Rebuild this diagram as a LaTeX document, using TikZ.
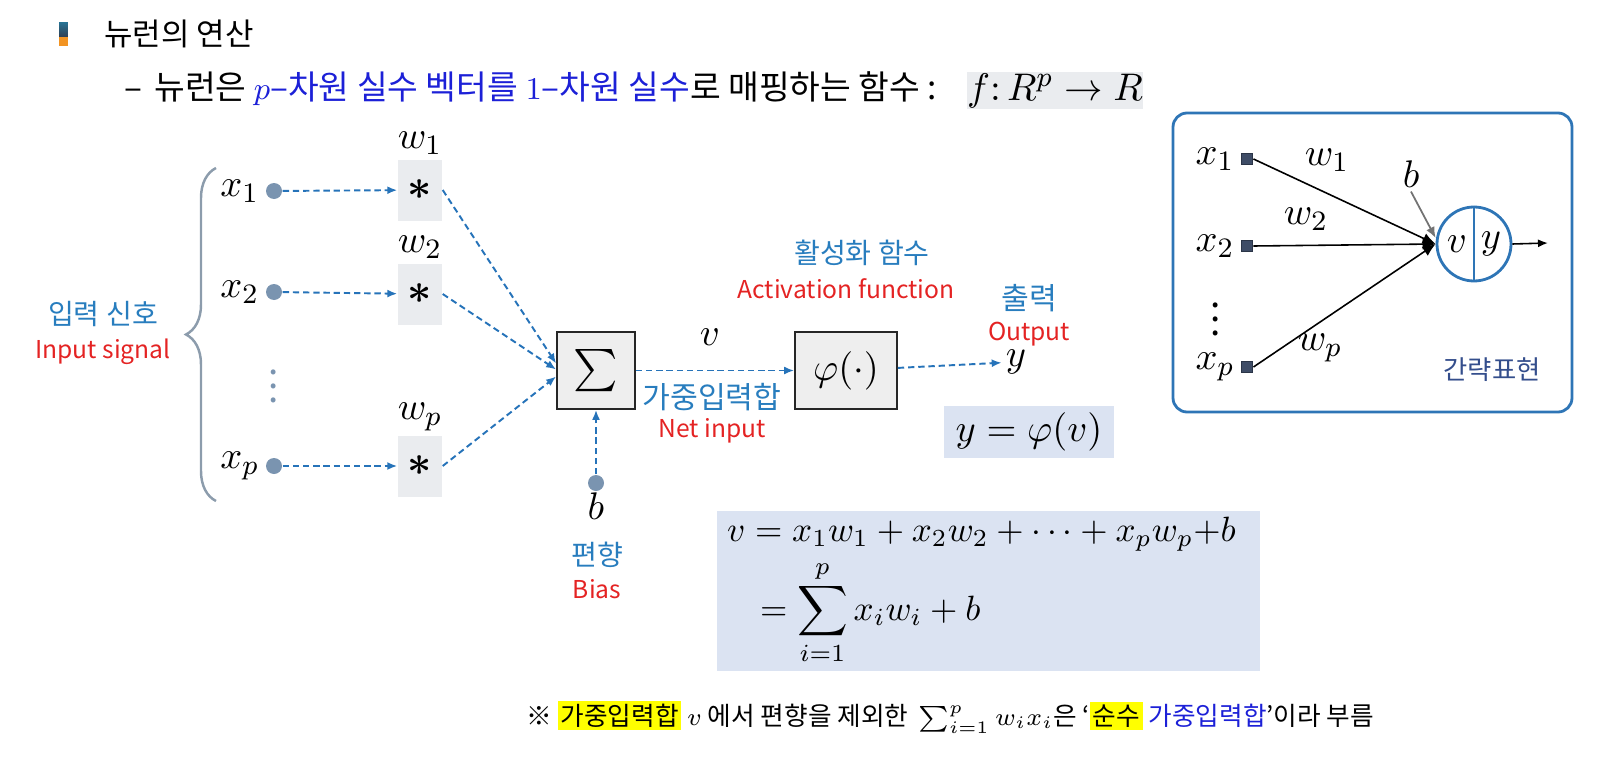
\documentclass[tikz,border=0pt]{standalone}
\usepackage[no-math]{fontspec}
\usepackage{amsmath}
\setmainfont{Noto Sans CJK KR}
\setsansfont{Noto Sans CJK KR}
\usetikzlibrary{arrows.meta,positioning,calc,decorations.pathreplacing}

\definecolor{lblblue}{RGB}{40,125,190}
\definecolor{lblred}{RGB}{228,35,35}
\definecolor{flowblue}{RGB}{38,115,185}
\definecolor{dotgray}{RGB}{122,148,176}
\definecolor{boxgray}{RGB}{234,236,239}
\definecolor{opgray}{RGB}{238,238,238}
\definecolor{eqfill}{RGB}{219,227,242}
\definecolor{textblue}{RGB}{28,32,215}
\definecolor{frameblue}{RGB}{46,117,182}
\definecolor{hlyellow}{RGB}{255,255,0}
\definecolor{navytext}{RGB}{52,78,140}
\definecolor{sqfill}{RGB}{62,76,102}
\definecolor{bracegray}{RGB}{140,156,172}
\definecolor{bultop}{RGB}{40,112,145}
\definecolor{bulmid}{RGB}{48,62,82}
\definecolor{bulorange}{RGB}{242,148,35}

\setlength{\fboxsep}{0.8pt}
\newcommand{\hlmark}[1]{\colorbox{hlyellow}{#1}}

\begin{document}
\begin{tikzpicture}[
    font=\fontsize{8.5}{10}\selectfont,
    >=Latex,
    flow/.style={-{Latex[length=1mm,width=0.8mm]}, line width=0.55pt,
                 draw=flowblue, dash pattern=on 1.8pt off 1.1pt},
    indot/.style={circle, fill=dotgray, inner sep=0pt, minimum size=1.6mm},
    wbox/.style={fill=boxgray, minimum width=4.4mm, minimum height=6.1mm, inner sep=0pt,
                 font=\fontsize{12}{12}\selectfont},
    opbox/.style={draw=black!85, fill=opgray, line width=0.5pt,
                  minimum height=7.7mm, inner sep=0pt},
    mlabel/.style={font=\fontsize{10.8}{12}\selectfont, inner sep=1pt},
    kor/.style={text=lblblue, font=\fontsize{8}{9.5}\selectfont},
    eng/.style={text=lblred, font=\fontsize{7}{8.5}\selectfont},
    eqbox/.style={fill=eqfill, inner sep=0pt, font=\fontsize{9.6}{11}\selectfont},
    insq/.style={draw=sqfill!70!black, fill=sqfill, minimum size=1.15mm, inner sep=0pt},
    link/.style={-{Latex[length=1.3mm,width=1.1mm]}, line width=0.45pt}
]
\useasboundingbox (0,0) rectangle (16.13,-7.62);

% heading
\shade[top color=bultop, bottom color=bulmid] (0.59,-0.23) rectangle (0.68,-0.37);
\fill[bulorange] (0.59,-0.37) rectangle (0.68,-0.46);
\node[anchor=west, font=\fontsize{8.8}{10}\selectfont] (head) at (0.92,-0.34) {뉴런의 연산};
\node[anchor=west, font=\fontsize{9.5}{11}\selectfont] (subline) at (1.12,-0.89)
    {–\hspace{1.2mm}뉴런은 {\color{textblue}$p$–차원 실수 벡터를 $1$–차원 실수}로 매핑하는 함수 :};
\node[fill=boxgray, minimum width=17.3mm, minimum height=3.7mm, inner sep=0pt,
      font=\fontsize{10.8}{12}\selectfont] (fmap) at (10.55,-0.905)
    {$f{:}\,R^{p} \rightarrow R$};

% inputs
\node[indot] (x1) at (2.74,-1.91) {};
\node[indot] (x2) at (2.74,-2.92) {};
\node[indot] (xp) at (2.74,-4.66) {};
\node[mlabel, left=0.2mm of x1] (x1lbl) {$x_1$};
\node[mlabel, left=0.2mm of x2] (x2lbl) {$x_2$};
\node[mlabel, left=0.2mm of xp] (xplbl) {$x_p$};
\node[text=dotgray, inner sep=0pt, font=\fontsize{10.5}{10.5}\selectfont] (ldots) at (2.74,-3.76) {$\vdots$};

\draw[draw=bracegray, line width=0.7pt, decorate,
      decoration={brace, amplitude=3mm}] (2.16,-5.01) -- (2.16,-1.68);
\node[kor] (inlbl) at (1.03,-3.14) {입력 신호};
\node[eng] (inlblen) at (1.03,-3.52) {Input signal};

% weights
\node[wbox] (m1) at (4.20,-1.90) {$\boldsymbol{*}$};
\node[wbox] (m2) at (4.20,-2.94) {$\boldsymbol{*}$};
\node[wbox] (mp) at (4.20,-4.66) {$\boldsymbol{*}$};
\node[mlabel, above=0mm of m1] (w1) {$w_1$};
\node[mlabel, above=0mm of m2] (w2) {$w_2$};
\node[mlabel, above=0mm of mp] (wp) {$w_p$};

\draw[flow] (x1) -- (m1);
\draw[flow] (x2) -- (m2);
\draw[flow] (xp) -- (mp);

% summation and activation
\node[opbox, minimum width=7.8mm, font=\fontsize{12.5}{12.5}\selectfont] (sum) at (5.96,-3.705) {$\textstyle\sum$};
\node[opbox, minimum width=10.2mm, font=\fontsize{10.8}{12}\selectfont] (phi) at (8.46,-3.705) {$\varphi(\cdot)$};

\draw[flow] (m1.east) -- ($(sum.west)+(0,0.07)$);
\draw[flow] (m2.east) -- ($(sum.west)+(0,0.01)$);
\draw[flow] (mp.east) -- ($(sum.west)+(0,-0.06)$);
\draw[flow] (sum) -- (phi);

\node[mlabel] (vlbl) at (7.10,-3.37) {$v$};
\node[kor, font=\fontsize{8.6}{10}\selectfont] (netlbl) at (7.12,-3.97) {가중입력합};
\node[eng] (netlblen) at (7.12,-4.31) {Net input};

\node[kor] (actlbl) at (8.62,-2.53) {활성화 함수};
\node[eng] (actlblen) at (8.46,-2.89) {Activation function};

\node[mlabel] (out) at (10.16,-3.62) {$y$};
\draw[flow] (phi) -- (out);
\node[kor, font=\fontsize{8.6}{10}\selectfont] (outlbl) at (10.29,-2.98) {출력};
\node[eng] (outlblen) at (10.29,-3.34) {Output};

\node[eqbox, minimum width=17mm, minimum height=5.2mm, font=\fontsize{10.8}{12}\selectfont]
    (yeq) at (10.29,-4.32) {$y = \varphi(v)$};

% bias
\node[indot] (bdot) at (5.96,-4.83) {};
\node[mlabel, below=-0.3mm of bdot] (blbl) {$b$};
\draw[flow] (bdot) -- (sum);
\node[kor] (biaslbl) at (5.97,-5.55) {편향};
\node[eng] (biaslblen) at (5.97,-5.89) {Bias};

% net input formula
\node[eqbox, minimum width=54.3mm, minimum height=16mm, text width=52.3mm, align=left]
    (neteq) at (9.885,-5.91)
    {$v = x_1w_1 + x_2w_2 + \cdots + x_pw_p{+}b$\\[0.6mm]
     \hspace*{3.3mm}$\displaystyle = \sum_{i=1}^{p} x_iw_i + b$};

% note
\node[anchor=west, font=\fontsize{7.3}{9}\selectfont] (note) at (5.14,-7.17)
    {※ \hlmark{가중입력합} $v$ 에서 편향을 제외한 \,$\sum_{i=1}^{p} w_ix_i$은 ‘\hlmark{순수} {\color{textblue}가중입력합}’이라 부름};

% compact form
\node[draw=frameblue, line width=0.8pt, rounded corners=4pt,
      minimum width=39.9mm, minimum height=29.9mm] (compact) at (13.725,-2.625) {};
\node[insq] (s1) at (12.47,-1.59) {};
\node[insq] (s2) at (12.47,-2.46) {};
\node[insq] (sp) at (12.47,-3.67) {};
\node[mlabel, left=0.2mm of s1] (s1lbl) {$x_1$};
\node[mlabel, left=0.2mm of s2] (s2lbl) {$x_2$};
\node[mlabel, left=0.2mm of sp] (splbl) {$x_p$};
\node[inner sep=0pt, font=\fontsize{10.5}{10.5}\selectfont] (rdots) at (12.16,-3.09) {$\vdots$};

\node[circle, draw=frameblue, line width=0.8pt, minimum size=7.4mm, inner sep=0pt]
    (neuron) at (14.74,-2.44) {};
\draw[frameblue, line width=0.5pt] (neuron.north) -- (neuron.south);
\node[mlabel] (nv) at ($(neuron.center)+(-0.17,0)$) {$v$};
\node[mlabel] (ny) at ($(neuron.center)+(0.17,0)$) {$y$};

\draw[link] (s1.east) -- (neuron.west);
\draw[link] (s2.east) -- (neuron.west);
\draw[link] (sp.east) -- (neuron.west);
\coordinate (yend) at (15.48,-2.43);
\draw[-{Latex[length=1mm,width=0.8mm]}, line width=0.45pt] (neuron.east) -- (yend);

\node[mlabel] (rb) at (14.11,-1.74) {$b$};
\draw[-{Latex[length=1.1mm,width=0.9mm]}, draw=black!55, line width=0.5pt]
    (rb.south) -- ($(neuron.west)+(0,0.06)$);

\node[mlabel] (rw1) at (13.27,-1.60) {$w_1$};
\node[mlabel] (rw2) at (13.06,-2.19) {$w_2$};
\node[mlabel] (rwp) at (13.20,-3.48) {$w_p$};
\node[text=navytext, font=\fontsize{7.5}{9}\selectfont] (shortlbl) at (14.92,-3.70) {간략표현};

\end{tikzpicture}
\end{document}
